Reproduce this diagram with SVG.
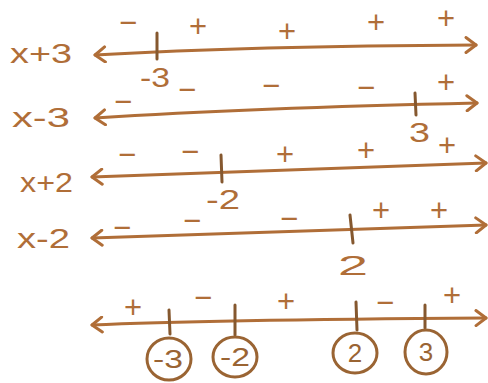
<svg xmlns="http://www.w3.org/2000/svg" width="488" height="383" viewBox="0 0 488 383">
<defs>
<style>
.ln{fill:none;stroke:#b06e38;stroke-width:3;stroke-linecap:round;marker-start:url(#ah);marker-end:url(#ah)}
.tk{stroke:#85582f;stroke-width:3;stroke-linecap:round}
.lbl{font-family:"Liberation Sans",Arial,sans-serif;fill:#b06e38;font-size:28px}
.num{font-family:"Liberation Sans",Arial,sans-serif;fill:#b06e38;font-size:27px}
.sg{font-family:"Liberation Sans",Arial,sans-serif;fill:#b06e38;font-size:31px;text-anchor:middle;dominant-baseline:central}
.cir{fill:none;stroke:#9a6433;stroke-width:3}
.cn{font-family:"Liberation Sans",Arial,sans-serif;fill:#9a6433;font-size:26px;text-anchor:middle;dominant-baseline:central}
</style>
<marker id="ah" viewBox="-12 -9 14 18" refX="0" refY="0" markerWidth="14" markerHeight="18" markerUnits="userSpaceOnUse" orient="auto-start-reverse">
<path d="M-10,-7.5 L0,0 L-10,7.5" fill="none" stroke="#b06e38" stroke-width="3" stroke-linecap="round" stroke-linejoin="round"/>
</marker>
</defs>
<rect width="488" height="383" fill="#ffffff"/>

<g id="connectors">
<path class="ln" d="M95,55 Q250,46 476,45"/>
<path class="ln" d="M95,118 Q250,108 477,103"/>
<path class="ln" d="M92,177 Q300,170 486,163"/>
<path class="ln" d="M92,238 Q300,232 486,225"/>
<path class="ln" d="M92,325 Q200,320 486,318"/>
</g>

<g id="row-x-plus-3">
<text class="lbl" x="10" y="63" textLength="62" lengthAdjust="spacingAndGlyphs">x+3</text>
<line class="tk" x1="157" y1="33" x2="157" y2="59"/>
<text class="num" x="140" y="87" textLength="30" lengthAdjust="spacingAndGlyphs">-3</text>
<text class="sg" x="128" y="22">−</text>
<text class="sg" x="198" y="26">+</text>
<text class="sg" x="287" y="31">+</text>
<text class="sg" x="376" y="22">+</text>
<text class="sg" x="446" y="18">+</text>
</g>

<g id="row-x-minus-3">
<text class="lbl" x="12" y="127" textLength="58" lengthAdjust="spacingAndGlyphs">x-3</text>
<line class="tk" x1="415" y1="93" x2="416" y2="115"/>
<text class="num" x="409" y="142" textLength="21" lengthAdjust="spacingAndGlyphs">3</text>
<text class="sg" x="123" y="101">−</text>
<text class="sg" x="187" y="89">−</text>
<text class="sg" x="271" y="85">−</text>
<text class="sg" x="366" y="87">−</text>
<text class="sg" x="446" y="82">+</text>
</g>

<g id="row-x-plus-2">
<text class="lbl" x="20" y="192" textLength="53" lengthAdjust="spacingAndGlyphs">x+2</text>
<line class="tk" x1="221" y1="155" x2="222" y2="182"/>
<text class="num" x="206" y="209" textLength="34" lengthAdjust="spacingAndGlyphs">-2</text>
<text class="sg" x="127" y="154">−</text>
<text class="sg" x="190" y="151">−</text>
<text class="sg" x="285" y="154">+</text>
<text class="sg" x="366" y="150">+</text>
<text class="sg" x="447" y="145">+</text>
</g>

<g id="row-x-minus-2">
<text class="lbl" x="17" y="248" textLength="53" lengthAdjust="spacingAndGlyphs">x-2</text>
<line class="tk" x1="350" y1="215" x2="353" y2="243"/>
<text class="num" x="338" y="275" textLength="30" lengthAdjust="spacingAndGlyphs">2</text>
<text class="sg" x="122" y="227">−</text>
<text class="sg" x="192" y="220">−</text>
<text class="sg" x="289" y="218">−</text>
<text class="sg" x="381" y="210">+</text>
<text class="sg" x="439" y="210">+</text>
</g>

<g id="row-product">
<line class="tk" x1="169" y1="310" x2="170" y2="334"/>
<line class="tk" x1="235" y1="305" x2="235" y2="335"/>
<line class="tk" x1="356" y1="302" x2="357" y2="330"/>
<line class="tk" x1="425" y1="305" x2="425" y2="328"/>
<text class="sg" x="133" y="307">+</text>
<text class="sg" x="203" y="297">−</text>
<text class="sg" x="286" y="301">+</text>
<text class="sg" x="385" y="302">−</text>
<text class="sg" x="452" y="295">+</text>
</g>

<g id="root-neg3">
<ellipse class="cir" cx="169" cy="359" rx="22" ry="21"/>
<text class="cn" x="168" y="359" textLength="30" lengthAdjust="spacingAndGlyphs">-3</text>
</g>
<g id="root-neg2">
<ellipse class="cir" cx="235" cy="357" rx="22" ry="20"/>
<text class="cn" x="235" y="357" textLength="30" lengthAdjust="spacingAndGlyphs">-2</text>
</g>
<g id="root-2">
<ellipse class="cir" cx="355" cy="353" rx="22" ry="20"/>
<text class="cn" x="355" y="353">2</text>
</g>
<g id="root-3">
<ellipse class="cir" cx="426" cy="352" rx="21" ry="22"/>
<text class="cn" x="426" y="352">3</text>
</g>
</svg>
